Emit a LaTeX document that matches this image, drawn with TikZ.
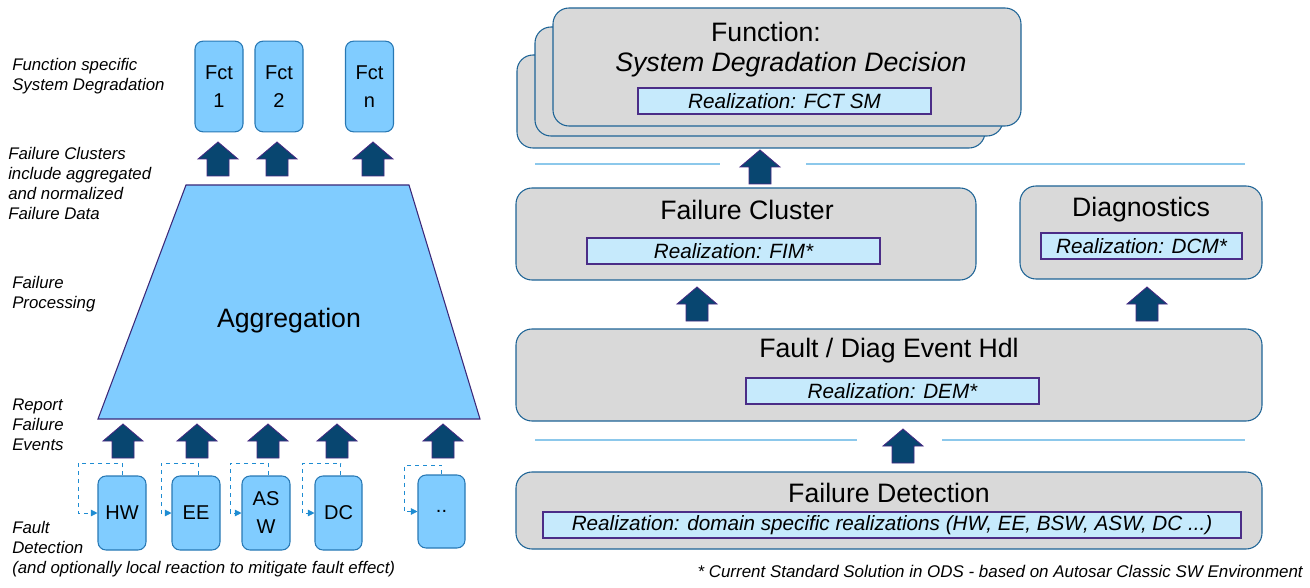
\documentclass[tikz,border=0pt]{standalone}
\usepackage{fontspec}
\setmainfont{Liberation Sans}
\usetikzlibrary{positioning}
\usetikzlibrary{arrows.meta}

\definecolor{fctblue}{RGB}{128,204,255}
\definecolor{fctline}{RGB}{40,120,180}
\definecolor{aggline}{RGB}{60,40,120}
\definecolor{arrowfill}{RGB}{8,70,112}
\definecolor{arrowline}{RGB}{70,40,130}
\definecolor{layergray}{RGB}{217,217,217}
\definecolor{layerline}{RGB}{30,100,150}
\definecolor{realfill}{RGB}{198,234,252}
\definecolor{realline}{RGB}{75,45,135}
\definecolor{sepline}{RGB}{140,200,235}
\definecolor{loopblue}{RGB}{30,140,210}

\tikzset{
  fctbox/.style={draw=fctline, fill=fctblue, rounded corners=6pt, line width=0.8pt,
    minimum width=36pt, align=center, inner sep=0pt, font=\fontsize{15}{21}\selectfont},
  layer/.style={draw=layerline, fill=layergray, rounded corners=12pt, line width=0.8pt, inner sep=0pt},
  title/.style={font=\fontsize{20}{24}\selectfont, inner sep=0pt},
  realbox/.style={draw=realline, fill=realfill, line width=0.8pt, minimum height=19.5pt,
    inner sep=0pt, font=\fontsize{15.5}{18}\selectfont\itshape},
  leftnote/.style={anchor=north west, align=left, inner sep=0pt, font=\fontsize{12.6}{15}\selectfont\itshape},
  fbloop/.style={draw=loopblue, dashed, line width=0.6pt, -{Triangle[length=5pt,width=5pt]}},
  sep/.style={draw=sepline, line width=0.8pt},
  upblock/.pic={
    \filldraw[fill=arrowfill, draw=arrowline, line width=0.6pt]
      (-11,17) -- (-11,0) -- (-20,0) -- (0,-17) -- (20,0) -- (11,0) -- (11,17) -- cycle;
  },
}

\begin{document}
\begin{tikzpicture}[x=0.75pt,y=-0.75pt]
  \useasboundingbox (0,0) rectangle (1310,588);

  % left side: notes
  \node[leftnote] (n1) at (12,58) {Function specific\\System Degradation};
  \node[leftnote] (n2) at (8,147) {Failure Clusters\\include aggregated\\and normalized\\Failure Data};
  \node[leftnote] (n3) at (12,276) {Failure\\Processing};
  \node[leftnote] (n4) at (12,399) {Report\\Failure\\Events};
  \node[leftnote] (n5) at (12,521) {Fault\\Detection\\(and optionally local reaction to mitigate fault effect)};

  % functions
  \node[fctbox, minimum height=68pt] (fct1) at (219,86.5) {Fct\\1};
  \node[fctbox, minimum height=68pt] (fct2) at (279,86.5) {Fct\\2};
  \node[fctbox, minimum height=68pt] (fctn) at (369.5,86.5) {Fct\\n};
  \pic at (218,159) {upblock};
  \pic at (277,159) {upblock};
  \pic at (373,159) {upblock};

  % aggregation
  \filldraw[fill=fctblue, draw=aggline, line width=0.8pt]
    (186,185) -- (409,185) -- (480,419) -- (98,419) -- cycle;
  \node[font=\fontsize{20}{24}\selectfont] (agg) at (289,321) {Aggregation};

  \foreach \x in {123,197,268,337,443}
    \pic at (\x,441) {upblock};

  % fault detection
  \node[fctbox, minimum height=55.5pt] (hw) at (122,513) {HW};
  \node[fctbox, minimum height=55.5pt] (ee) at (196,513) {EE};
  \node[fctbox, minimum height=55.5pt] (asw) at (266,513) {AS\\W};
  \node[fctbox, minimum height=55.5pt, minimum width=35.25pt] (dc) at (338.5,513) {DC};
  \node[fctbox, minimum height=54.75pt, minimum width=35.25pt] (dots) at (441.5,511.5) {..};

  \draw[fbloop] (hw.north) |- ++(-44,-12) |- (hw.west);
  \draw[fbloop] ([xshift=1.5pt]ee.north) |- ++(-37,-12) |- (ee.west);
  \draw[fbloop] ([xshift=1.5pt]asw.north) |- ++(-38,-12) |- (asw.west);
  \draw[fbloop] ([xshift=1.5pt]dc.north) |- ++(-38.5,-12) |- (dc.west);
  \draw[fbloop] (dots.north) |- ++(-37.5,-9) |- (dots.west);

  % right side: function layer
  \node[layer, minimum width=351pt, minimum height=69.75pt] (fback) at (751,101.5) {};
  \node[layer, minimum width=351pt, minimum height=81.75pt] (fmid) at (769,81.5) {};
  \node[layer, minimum width=351pt, minimum height=88.5pt] (ffront) at (787,67) {};
  \node[title] (ftitle) at (766,32) {Function:};
  \node[title, font=\fontsize{20}{24}\selectfont\itshape] (fsub) at (791,65) {System Degradation Decision};
  \node[realbox, minimum width=219.75pt] (fctsm) at (784.5,101) {Realization: FCT SM};

  \draw[sep] (535,164) -- (720,164);
  \draw[sep] (806,164) -- (1245,164);
  \pic at (760,167) {upblock};

  % failure cluster and diagnostics
  \node[layer, minimum width=345pt, minimum height=69pt] (cluster) at (746,234) {};
  \node[title] (ctitle) at (747,210) {Failure Cluster};
  \node[realbox, minimum width=219.75pt] (fim) at (733.5,251) {Realization: FIM*};

  \node[layer, minimum width=181.5pt, minimum height=69.75pt] (diag) at (1141,232.5) {};
  \node[title] (dtitle) at (1141,210) {Diagnostics};
  \node[realbox, minimum width=150.75pt] (dcm) at (1141.5,246) {Realization: DCM*};

  \pic at (697,304) {upblock};
  \pic at (1147,304) {upblock};

  % event handler
  \node[layer, minimum width=559.5pt, minimum height=69pt] (dem) at (889,375) {};
  \node[title] (etitle) at (889,351) {Fault / Diag Event Hdl};
  \node[realbox, minimum width=219.75pt] (demreal) at (892.5,391) {Realization: DEM*};

  \draw[sep] (535,440) -- (857,440);
  \draw[sep] (942,440) -- (1245,440);
  \pic at (903,446) {upblock};

  % detection
  \node[layer, minimum width=559.5pt, minimum height=57.75pt] (det) at (889,510.5) {};
  \node[title] (dettitle) at (889,493) {Failure Detection};
  \node[realbox, minimum width=523.5pt] (detreal) at (892,525)
    {Realization: domain specific realizations (HW, EE, BSW, ASW, DC ...)};

  \node[anchor=east, inner sep=0pt, font=\fontsize{12.7}{15}\selectfont\itshape] (foot) at (1303,571)
    {* Current Standard Solution in ODS - based on Autosar Classic SW Environment};
\end{tikzpicture}
\end{document}
